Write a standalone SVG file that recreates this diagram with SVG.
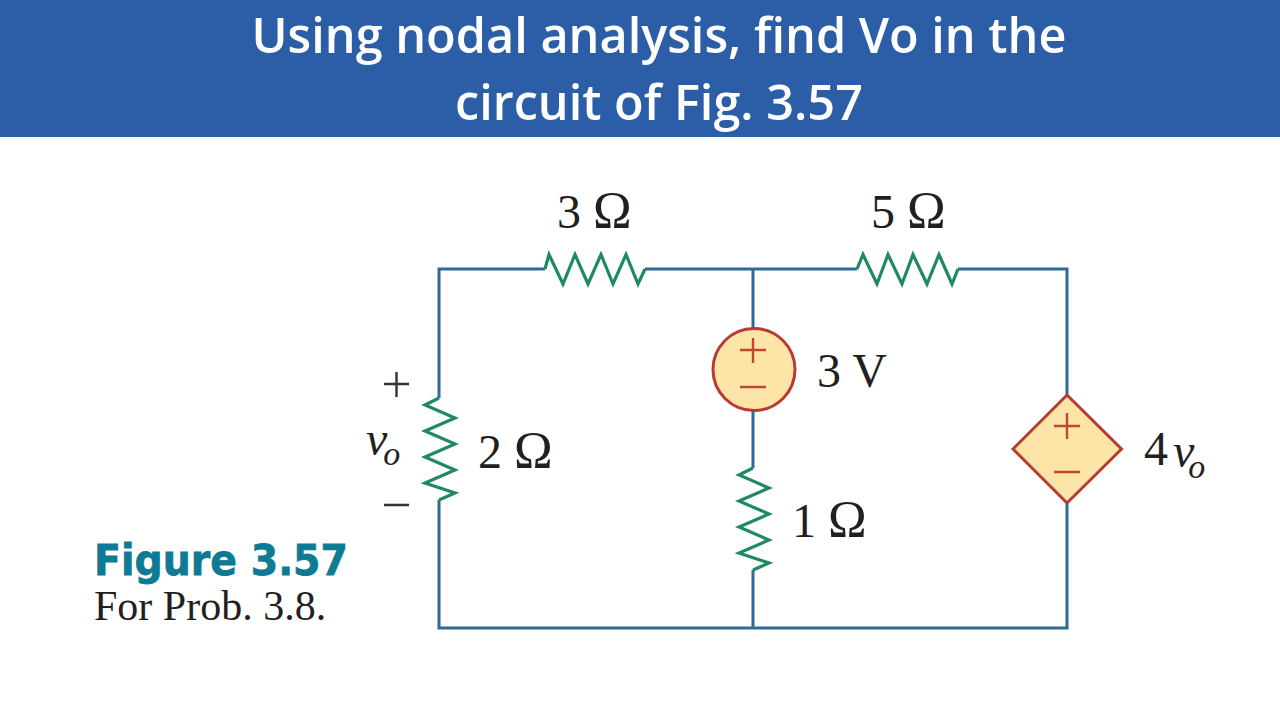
<svg xmlns="http://www.w3.org/2000/svg" width="1280" height="720" viewBox="0 0 1280 720">
<style>
.wire{fill:none;stroke:#2f6b94;stroke-width:3}
.res{fill:none;stroke:#1f8a5f;stroke-width:3.200;stroke-linejoin:miter;stroke-miterlimit:8}
.src{fill:#fde5a8;stroke:#b93a32;stroke-width:3}
.sgn{fill:none;stroke:#c2452d;stroke-width:2.400}
.blk{fill:none;stroke:#333;stroke-width:2.400}
.t{font-family:"Liberation Serif",serif;font-size:48px;fill:#231f20}
.w{font-size:52px}
.i{font-style:italic}
.s{font-size:34px}
.title{font-family:"Open Sans",sans-serif;font-weight:600;font-size:48.600px;fill:#fff;text-anchor:middle}
</style>
<rect width="1280" height="720" fill="#fff"/>
<g id="banner"><rect width="1280" height="137" fill="#2b5ea6"/>
<text class="title" x="659" y="53">Using nodal analysis, find Vo in the</text>
<text class="title" x="659" y="120">circuit of Fig. 3.57</text></g>
<g id="connectors">
<path class="wire" d="M439 398V269H545M645 269H857M958 269H1067V395M753 269V328M753 411V468M1067 503V628H439V500M753 570V628"/>
</g>
<g id="r3"><path class="res" d="M545 269L549 254.500L563 284L575 254.500L588 284L601 254.500L613 284L626 254.500L638 284L645 269"/><text class="t" x="557" y="228">3 <tspan class="w">Ω</tspan></text></g>
<g id="r5"><path class="res" d="M857 269L863 254.500L877 284L888 254.500L902 284L913 254.500L927 284L939 254.500L952 284L958 269"/><text class="t" x="871" y="228">5 <tspan class="w">Ω</tspan></text></g>
<g id="r2"><path class="res" d="M439 398L425 405L455 418L425 431L455 444L425 457L455 470L425 483L455 493L439 500"/><text class="t" x="478" y="468">2 <tspan class="w">Ω</tspan></text></g>
<g id="r1"><path class="res" d="M753 468L739 475L769 488L739 501L769 514L739 527L769 540L739 553L769 563L753 570"/><text class="t" x="792" y="537">1 <tspan class="w">Ω</tspan></text></g>
<g id="vs"><circle class="src" cx="754" cy="369.500" r="41"/><path class="sgn" d="M740 350H766M753 338V363M740 387H766"/><text class="t" x="817" y="387">3 V</text></g>
<g id="dep"><polygon class="src" points="1067,395 1121.500,449 1067,503 1013,449"/><path class="sgn" d="M1054 426H1080M1067 413V439M1054 472H1080"/><text class="t" x="1144" y="465">4<tspan class="i" dx="5" dy="2">v</tspan><tspan class="i s" dx="-6" dy="11">o</tspan></text></g>
<g id="vo"><path class="blk" d="M384 384H409M396.500 372V397M384 505H409"/><text class="t i" x="366" y="455">v<tspan class="s" dx="-4" dy="10">o</tspan></text></g>
<g id="caption"><text x="94" y="575" font-family="DejaVu Sans,sans-serif" font-weight="700" font-size="43" fill="#0f7a93" stroke="#0f7a93" stroke-width="0.8" textLength="254" lengthAdjust="spacingAndGlyphs">Figure 3.57</text>
<text class="t" x="94" y="620" style="font-size:42px">For Prob. 3.8.</text></g>
</svg>
